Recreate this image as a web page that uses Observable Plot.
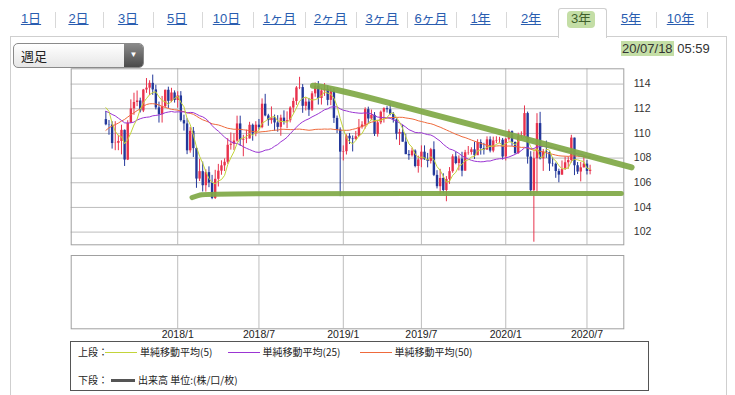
<!DOCTYPE html>
<html><head><meta charset="utf-8">
<script src="https://cdn.jsdelivr.net/npm/d3@7"></script>
<script src="https://cdn.jsdelivr.net/npm/@observablehq/plot@0.6"></script>
<style>
body{margin:0;width:735px;height:395px;overflow:hidden;background:#fff;font-family:Arial,"Liberation Sans","Noto Sans CJK JP",sans-serif;position:relative}
#panel{position:absolute;left:0;top:0;z-index:1}
#tabs{position:absolute;left:0;top:0;z-index:2}
.tab{position:absolute;top:11px;font-size:13px;line-height:16px;color:#2a5db0;text-decoration:underline;transform:translateX(-50%);white-space:nowrap}
.tab.sel{color:#3f5f2c;text-decoration:none}
.pl{position:absolute;left:0;z-index:1}
#legend{position:absolute;left:70px;top:341px;width:577px;height:48px;border:1px solid #555;font-size:10px;color:#222;font-family:"Noto Sans CJK JP",Arial,sans-serif;z-index:1}
#legend span{position:absolute;white-space:nowrap;line-height:12px}
#legend i{position:absolute;display:block}
</style></head>
<body>
<div id="panel"></div>
<div id="tabs"></div>
<div id="upper" class="pl" style="top:60px"></div>
<div id="lower" class="pl" style="top:250px"></div>
<div id="legend"></div>
<script>
// ---------------- data ----------------
const tabLabels = ["1日","2日","3日","5日","10日","1ヶ月","2ヶ月","3ヶ月","6ヶ月","1年","2年","3年","5年","10年"];
const selectedTab = "3年";
const periodLabel = "週足";
const stampDate = "20/07/18";
const stampTime = "05:59";

// weekly candles, weeks starting Monday 2017-07-24 .. 2020-07-13
const firstWeek = "2017-07-24", lastWeek = "2020-07-13";
const open = [
111.12,110.70,110.68,109.18,109.20,109.35,110.25,107.84,110.83,111.99,112.51,112.63,111.82,113.52,113.67,114.06,113.53,112.07,111.52,112.17,113.50,112.60,113.28,
112.67,113.04,111.04,110.77,108.59,110.17,108.77,106.30,106.90,105.76,106.82,105.97,104.73,106.28,106.94,107.37,107.66,109.04,109.12,109.38,110.77,109.45,109.52,109.55,110.66,109.97,110.67,110.47,112.37,111.42,111.04,111.25,110.85,110.49,111.24,110.93,111.03,112.06,112.59,113.69,113.72,112.20,112.54,111.89,113.21,113.82,112.83,113.45,113.56,112.68,113.39,111.22,
110.28,108.48,108.52,109.77,109.55,109.50,109.73,110.48,110.68,111.93,111.17,111.46,109.93,110.86,111.72,112.01,111.92,111.55,111.09,109.94,110.08,109.29,108.28,108.19,108.57,107.32,107.85,108.48,107.86,107.73,108.68,106.60,105.68,106.35,105.37,106.27,106.90,108.10,107.56,107.92,106.94,108.43,108.45,108.67,108.19,109.26,108.78,108.65,109.48,108.57,109.39,109.43,
109.45,108.09,109.52,110.14,109.27,108.36,109.74,109.77,111.61,108.08,105.36,107.95,110.80,107.94,108.50,108.45,107.52,107.50,106.91,106.62,107.07,107.62,107.80,109.62,107.38,106.87,107.21,107.51,106.92];
const high = [
111.78,111.05,110.95,110.95,109.85,110.67,110.28,111.03,112.72,113.26,113.44,112.86,113.57,114.45,114.27,114.73,113.91,112.54,113.00,113.51,113.75,113.66,113.45,
113.38,113.39,111.48,111.19,110.48,110.48,108.88,107.90,107.68,107.05,107.29,106.60,107.01,107.49,107.78,107.94,109.57,110.04,109.98,111.40,111.40,109.85,110.27,110.90,110.76,110.95,111.13,112.80,113.17,111.55,112.15,111.49,111.44,111.48,111.83,111.75,112.17,112.86,113.80,114.55,113.96,112.89,112.84,113.39,114.09,114.21,113.66,114.04,113.84,113.71,113.65,111.41,
110.45,108.99,109.89,109.99,109.80,110.16,111.13,110.95,112.08,112.13,111.90,111.69,111.00,111.82,112.08,112.17,112.40,111.69,111.18,110.33,110.68,109.93,108.61,108.80,108.67,108.16,108.99,108.99,108.38,108.79,109.32,106.98,107.09,106.73,106.50,107.23,108.27,108.48,108.18,108.47,108.63,108.94,108.84,109.29,109.49,109.48,109.20,109.72,109.72,109.70,109.73,109.68,
109.59,109.60,110.29,110.20,109.30,110.02,110.13,112.23,111.73,108.52,108.50,111.60,111.71,108.70,109.38,108.50,108.05,107.60,107.10,107.77,108.08,108.09,109.85,109.62,107.64,107.65,108.16,107.80,107.42];
const low = [
110.62,109.85,108.73,108.60,108.60,108.26,107.32,107.80,110.80,111.47,112.17,111.66,111.69,113.25,113.08,113.09,111.91,110.84,110.84,112.05,112.03,112.49,112.46,
112.05,110.92,110.19,108.28,108.40,108.05,105.55,106.10,105.25,105.24,105.60,104.63,104.64,105.66,106.61,106.91,107.50,108.65,108.62,109.29,108.95,108.11,109.17,109.55,109.37,109.73,110.28,110.38,111.35,110.58,110.75,110.18,110.10,109.77,110.68,110.38,110.85,111.65,112.27,113.55,111.63,111.82,111.38,111.78,112.93,112.30,112.30,113.00,112.24,112.25,110.81,109.99,
104.87,107.77,108.25,109.10,108.50,109.45,109.74,110.35,110.35,110.79,111.03,109.75,109.70,110.71,110.84,111.65,111.43,110.84,109.47,109.02,109.29,108.28,107.82,108.08,107.21,106.78,107.22,107.82,107.21,107.52,106.50,105.50,105.05,105.10,104.46,105.87,106.77,107.46,106.96,106.48,106.94,108.23,108.24,107.89,108.24,108.24,108.25,108.64,108.42,108.43,109.17,109.15,
107.84,107.77,109.38,108.95,108.31,108.31,109.56,109.72,107.51,105.00,101.18,105.15,107.85,106.92,107.98,106.92,107.28,106.36,106.00,106.60,107.00,107.09,107.60,106.58,106.67,106.07,107.20,106.63,106.64];
const close = [
110.70,110.68,109.18,109.20,109.35,110.25,107.84,110.83,111.99,112.51,112.63,111.82,113.52,113.67,114.06,113.53,112.07,111.52,112.17,113.50,112.60,113.28,112.67,
113.04,111.04,110.77,108.59,110.17,108.77,106.30,106.90,105.76,106.82,105.97,104.73,106.28,106.94,107.37,107.66,109.04,109.12,109.38,110.77,109.45,109.52,109.55,110.66,109.97,110.67,110.47,112.37,111.42,111.04,111.25,110.85,110.49,111.24,110.93,111.03,112.06,112.59,113.69,113.72,112.20,112.54,111.89,113.21,113.82,112.83,113.45,113.56,112.68,113.39,111.22,110.28,
108.48,108.52,109.77,109.55,109.50,109.73,110.48,110.68,111.93,111.17,111.46,109.93,110.86,111.72,112.01,111.92,111.55,111.09,109.94,110.08,109.29,108.28,108.19,108.57,107.32,107.85,108.48,107.86,107.73,108.68,106.60,105.68,106.35,105.37,106.27,106.90,108.10,107.56,107.92,106.94,108.43,108.45,108.67,108.19,109.26,108.78,108.65,109.48,108.57,109.39,109.43,109.45,
108.09,109.52,110.14,109.27,108.36,109.74,109.77,111.61,108.08,105.36,107.95,110.80,107.94,108.50,108.45,107.52,107.50,106.91,106.62,107.07,107.62,107.80,109.62,107.38,106.87,107.21,107.51,106.92,107.02];
// the 49 weekly closes before the window (Aug 2016 – Jul 2017), needed by the moving averages
const priorClose = [
100.21,101.84,103.99,102.66,102.28,100.99,101.35,102.94,104.19,103.83,104.72,103.13,106.62,110.90,113.22,113.52,115.30,117.95,117.27,116.96,
116.96,114.45,114.62,115.11,112.59,113.22,112.88,112.13,114.05,114.79,112.69,111.33,111.39,111.09,108.63,109.08,111.50,112.70,113.34,111.27,111.33,110.40,110.33,110.88,111.29,112.18,113.91,112.53,111.12];
const maPeriods = [5, 25, 50];
const maLabels = ["単純移動平均(5)", "単純移動平均(25)", "単純移動平均(50)"];
const volumeLabel = "出来高 単位:(株/口/枚)";

const yTicks = [102, 104, 106, 108, 110, 112, 114];
const xTickDates = ["2018-01-01", "2018-07-02", "2019-01-07", "2019-07-01", "2020-01-06", "2020-07-06"];
const xTickLabels = ["2018/1", "2018/7", "2019/1", "2019/7", "2020/1", "2020/7"];

// hand-drawn green annotation lines (date, price)
const supportDates = ["2018-02-02", "2018-02-21", "2018-03-08", "2020-09-21"];
const supportPrices = [104.80, 105.03, 105.13, 105.13];
const resistDates = ["2018-10-31", "2018-12-15", "2020-10-14"];
const resistPrices = [113.86, 113.74, 107.25];

// ---------------- build ----------------
const weeks = d3.utcMonday.range(new Date(firstWeek), d3.utcDay.offset(new Date(lastWeek), 1));
const allClose = priorClose.concat(close);
const P = priorClose.length;
const sma = n => close.map((_, i) => d3.mean(allClose.slice(i + P - n + 1, i + P + 1)));
const mas = maPeriods.map(sma);
const candles = weeks.map((date, i) => ({
  date, open: open[i], high: high[i], low: low[i], close: close[i],
  ma5: mas[0][i], ma25: mas[1][i], ma50: mas[2][i]
}));
const UP = "#e8324c", DOWN = "#23389a";
const colorOf = d => d.close >= d.open ? UP : DOWN;
const ticksX = xTickDates.map(s => new Date(s));
const support = supportDates.map((s, i) => ({date: new Date(s), price: supportPrices[i]}));
const resist = resistDates.map((s, i) => ({date: new Date(s), price: resistPrices[i]}));

const xDomain = [new Date("2017-05-07T08:00:00Z"), new Date("2020-09-26T12:00:00Z")];
const W = 735, ML = 70.7, MR = 111.7;
const GRID = "#bdbdbd";
const fontStyle = {fontFamily: "Arial, 'Liberation Sans', sans-serif", fontSize: "10.5px", color: "#333", background: "transparent", overflow: "visible"};

const upper = Plot.plot({
  width: W, height: 190, marginLeft: ML, marginRight: MR, marginTop: 8.3, marginBottom: 5.7,
  x: {type: "utc", domain: xDomain, axis: null},
  y: {domain: [100.97, 115.24], axis: null},
  color: {type: "identity"},
  style: fontStyle,
  marks: [
    Plot.ruleY(yTicks, {stroke: GRID, strokeWidth: 1}),
    Plot.ruleX(ticksX, {stroke: GRID, strokeWidth: 1}),
    Plot.axisY({anchor: "right", ticks: yTicks, tickSize: 0, tickPadding: 10, textAnchor: "start", fill: "#333"}),
    Plot.ruleX(candles, {x: "date", y1: "low", y2: "high", stroke: colorOf, strokeWidth: 1}),
    Plot.ruleX(candles, {x: "date", y1: "open", y2: "close", stroke: colorOf, strokeWidth: 2.4}),
    Plot.line(candles, {x: "date", y: "ma50", stroke: "#ef6a3c", strokeWidth: 1}),
    Plot.line(candles, {x: "date", y: "ma25", stroke: "#9b35d3", strokeWidth: 1}),
    Plot.line(candles, {x: "date", y: "ma5", stroke: "#c3d43a", strokeWidth: 1}),
    Plot.frame({stroke: "#a0a0a0"}),
    Plot.line(support, {x: "date", y: "price", curve: "basis", stroke: "#7fa845", strokeOpacity: 0.92, strokeWidth: 5, strokeLinecap: "round"}),
    Plot.line(resist, {x: "date", y: "price", curve: "basis", stroke: "#7fa845", strokeOpacity: 0.92, strokeWidth: 6, strokeLinecap: "round"})
  ]
});
document.getElementById("upper").append(upper);

const lower = Plot.plot({
  width: W, height: 100, marginLeft: ML, marginRight: MR, marginTop: 5, marginBottom: 21.7,
  x: {type: "utc", domain: xDomain, axis: null},
  style: fontStyle,
  marks: [
    Plot.ruleX(ticksX, {stroke: GRID, strokeWidth: 1}),
    Plot.axisX({ticks: ticksX, tickSize: 0, tickPadding: 2, fill: "#222",
      tickFormat: d => xTickLabels[ticksX.findIndex(t => +t === +d)]}),
    Plot.frame({stroke: "#a0a0a0"})
  ]
});
document.getElementById("lower").append(lower);

// ---------------- page chrome ----------------
const tabCenters = [31,78.5,128,177,226.5,279.5,330.5,382,431,480.5,531,581,631,680.5];
const tabs = document.getElementById("tabs");
const panel = document.getElementById("panel");
function box(parent, css) { const e = document.createElement("div"); e.style.cssText = "position:absolute;" + css; parent.append(e); return e; }
// panel borders
const selIdx = tabLabels.indexOf(selectedTab);
const selL = 558, selR = 607;
box(panel, `left:10px;top:36px;width:${selL-10}px;height:1px;background:#cfcfcf`);
box(panel, `left:${selR}px;top:36px;width:${726-selR}px;height:1px;background:#cfcfcf`);
box(panel, "left:10px;top:36px;width:1px;height:360px;background:#cfcfcf");
box(panel, "left:726px;top:36px;width:1px;height:360px;background:#cfcfcf");
box(panel, `left:${selL}px;top:8px;width:${selR-selL-2}px;height:29px;border:1px solid #cfcfcf;border-bottom:none;border-radius:3px 3px 0 0;background:#fff`);
box(panel, `left:${selL+9}px;top:11px;width:28px;height:17px;background:#c4dea6;border-radius:4px`);
tabLabels.forEach((t, i) => {
  const s = document.createElement("span");
  s.className = "tab" + (t === selectedTab ? " sel" : "");
  s.style.left = tabCenters[i] + "px";
  s.textContent = t;
  tabs.append(s);
  if (i < tabLabels.length - 1 && i !== selIdx && i !== selIdx - 1) {
    box(tabs, `left:${(tabCenters[i] + tabCenters[i+1]) / 2}px;top:12px;width:1px;height:16px;background:#d8d8d8`);
  }
});
box(tabs, "left:707px;top:12px;width:1px;height:16px;background:#d8d8d8");

// dropdown
const dd = box(panel, "left:13px;top:43px;width:129px;height:23px;border:1px solid #8a8a8a;border-radius:5px;background:linear-gradient(#ffffff,#e6e6e6);overflow:hidden");
const ddt = box(dd, "left:7px;top:3px;font-size:13px;line-height:17px;color:#222;font-family:'Noto Sans CJK JP',sans-serif");
ddt.textContent = periodLabel;
const dda = box(dd, "right:0;top:0;width:19px;height:23px;background:linear-gradient(#8a8a8a,#4a4a4a);color:#fff;font-size:8px;line-height:22px;text-align:center");
dda.textContent = "▼";

// timestamp
const ts = box(panel, "left:621px;top:41px;font-size:13px;line-height:16px;color:#333;white-space:nowrap");
ts.innerHTML = `<span style="background:#c4dea6;padding:0 1px">${stampDate}</span> ${stampTime}`;

// legend
const lg = document.getElementById("legend");
const maColors = ["#c3d43a", "#9b35d3", "#ef6a3c"];
lg.innerHTML = `<span style="left:7px;top:4px">上段：</span>` +
  maLabels.map((l, i) => {
    const x0 = [34, 156.5, 288.5][i];
    return `<i style="left:${x0}px;top:10px;width:32px;height:1px;background:${maColors[i]}"></i><span style="left:${x0+35}px;top:4px">${l}</span>`;
  }).join("") +
  `<span style="left:7px;top:32px">下段：</span><i style="left:40px;top:37px;width:24px;height:3px;background:#555"></i><span style="left:67px;top:32px">${volumeLabel}</span>`;
</script>
</body></html>
